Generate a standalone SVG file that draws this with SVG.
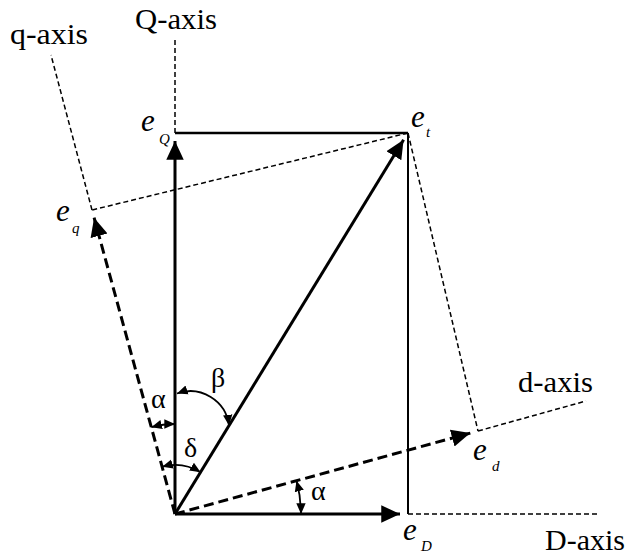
<svg xmlns="http://www.w3.org/2000/svg" width="630" height="559" viewBox="0 0 630 559">
<style>
text{font-family:"Liberation Serif","Times New Roman",serif;fill:#000}
.ax{font-size:29px}
.e{font-size:31px;font-style:italic}
.s{font-size:15px;font-style:italic}
.g{font-size:28px}
.thin{stroke:#000;stroke-width:1.5;stroke-dasharray:5 3;fill:none}
.bold{stroke:#000;stroke-width:3;stroke-dasharray:10 5;fill:none}
.solid{stroke:#000;stroke-width:3;fill:none}
.rect{stroke:#000;stroke-width:2.5;fill:none}
.arc{stroke:#000;stroke-width:1.8;fill:none;marker-start:url(#sa);marker-end:url(#sa)}
</style>
<defs>
<marker id="ah" markerUnits="userSpaceOnUse" markerWidth="20" markerHeight="20" refX="15" refY="7" orient="auto" viewBox="0 0 16 14">
<path d="M0,0 L15,7 L0,14 Z" fill="#000" stroke="none"/>
</marker>
<marker id="sa" markerUnits="userSpaceOnUse" markerWidth="12" markerHeight="12" refX="8" refY="3.5" orient="auto-start-reverse" viewBox="0 0 9 7">
<path d="M0,0 L8,3.5 L0,7 Z" fill="#000" stroke="none"/>
</marker>
</defs>

<g id="connectors">
<line class="thin" x1="175" y1="133" x2="175" y2="40"/>
<line class="thin" x1="408" y1="514" x2="600" y2="514"/>
<line class="thin" x1="92" y1="210" x2="51" y2="55"/>
<line class="thin" x1="478" y1="431" x2="586" y2="401"/>
<line class="thin" x1="408" y1="133" x2="92" y2="210"/>
<line class="thin" x1="408" y1="133" x2="478" y2="431"/>
<line class="rect" x1="175" y1="133" x2="408" y2="133"/>
<line class="rect" x1="408" y1="133" x2="408" y2="514" style="stroke-width:2"/>
<line class="solid" x1="175" y1="514" x2="175" y2="141" marker-end="url(#ah)"/>
<line class="solid" x1="175" y1="514" x2="400" y2="514" marker-end="url(#ah)"/>
<line class="solid" x1="175" y1="514" x2="403.6" y2="139.8" marker-end="url(#ah)"/>
<line class="bold" x1="175" y1="514" x2="94.1" y2="217.7" marker-end="url(#ah)"/>
<line class="bold" x1="175" y1="514" x2="470.3" y2="433.1" marker-end="url(#ah)"/>
<path class="arc" d="M151.3,427.2 A90,90 0 0 1 175,424"/>
<path class="arc" d="M177,393.5 A39,39 0 0 1 229,425.5"/>
<path class="arc" d="M162.1,466.7 A49,49 0 0 1 200.6,472.2"/>
<path class="arc" d="M296.5,480.7 A126,126 0 0 1 301,514"/>
</g>

<g id="q-axis"><text class="ax" x="10" y="44" textLength="78" lengthAdjust="spacingAndGlyphs">q-axis</text></g>
<g id="Q-axis"><text class="ax" x="135" y="29" textLength="82" lengthAdjust="spacingAndGlyphs">Q-axis</text></g>
<g id="d-axis"><text class="ax" x="518" y="392" textLength="75" lengthAdjust="spacingAndGlyphs">d-axis</text></g>
<g id="D-axis"><text class="ax" x="545" y="550" textLength="80" lengthAdjust="spacingAndGlyphs">D-axis</text></g>

<g id="eQ"><text class="e" x="141" y="131">e</text><text class="s" x="159" y="144">Q</text></g>
<g id="et"><text class="e" x="411" y="127">e</text><text class="s" x="426" y="137">t</text></g>
<g id="eq"><text class="e" x="56" y="221">e</text><text class="s" x="72" y="233">q</text></g>
<g id="ed"><text class="e" x="473" y="460">e</text><text class="s" x="492" y="471">d</text></g>
<g id="eD"><text class="e" x="403" y="540">e</text><text class="s" x="421" y="551">D</text></g>

<g id="alpha-upper"><text class="g" x="151" y="408">α</text></g>
<g id="beta"><text class="g" x="211" y="387">β</text></g>
<g id="delta"><text class="g" x="184" y="457">δ</text></g>
<g id="alpha-lower"><text class="g" x="311" y="500">α</text></g>
</svg>
